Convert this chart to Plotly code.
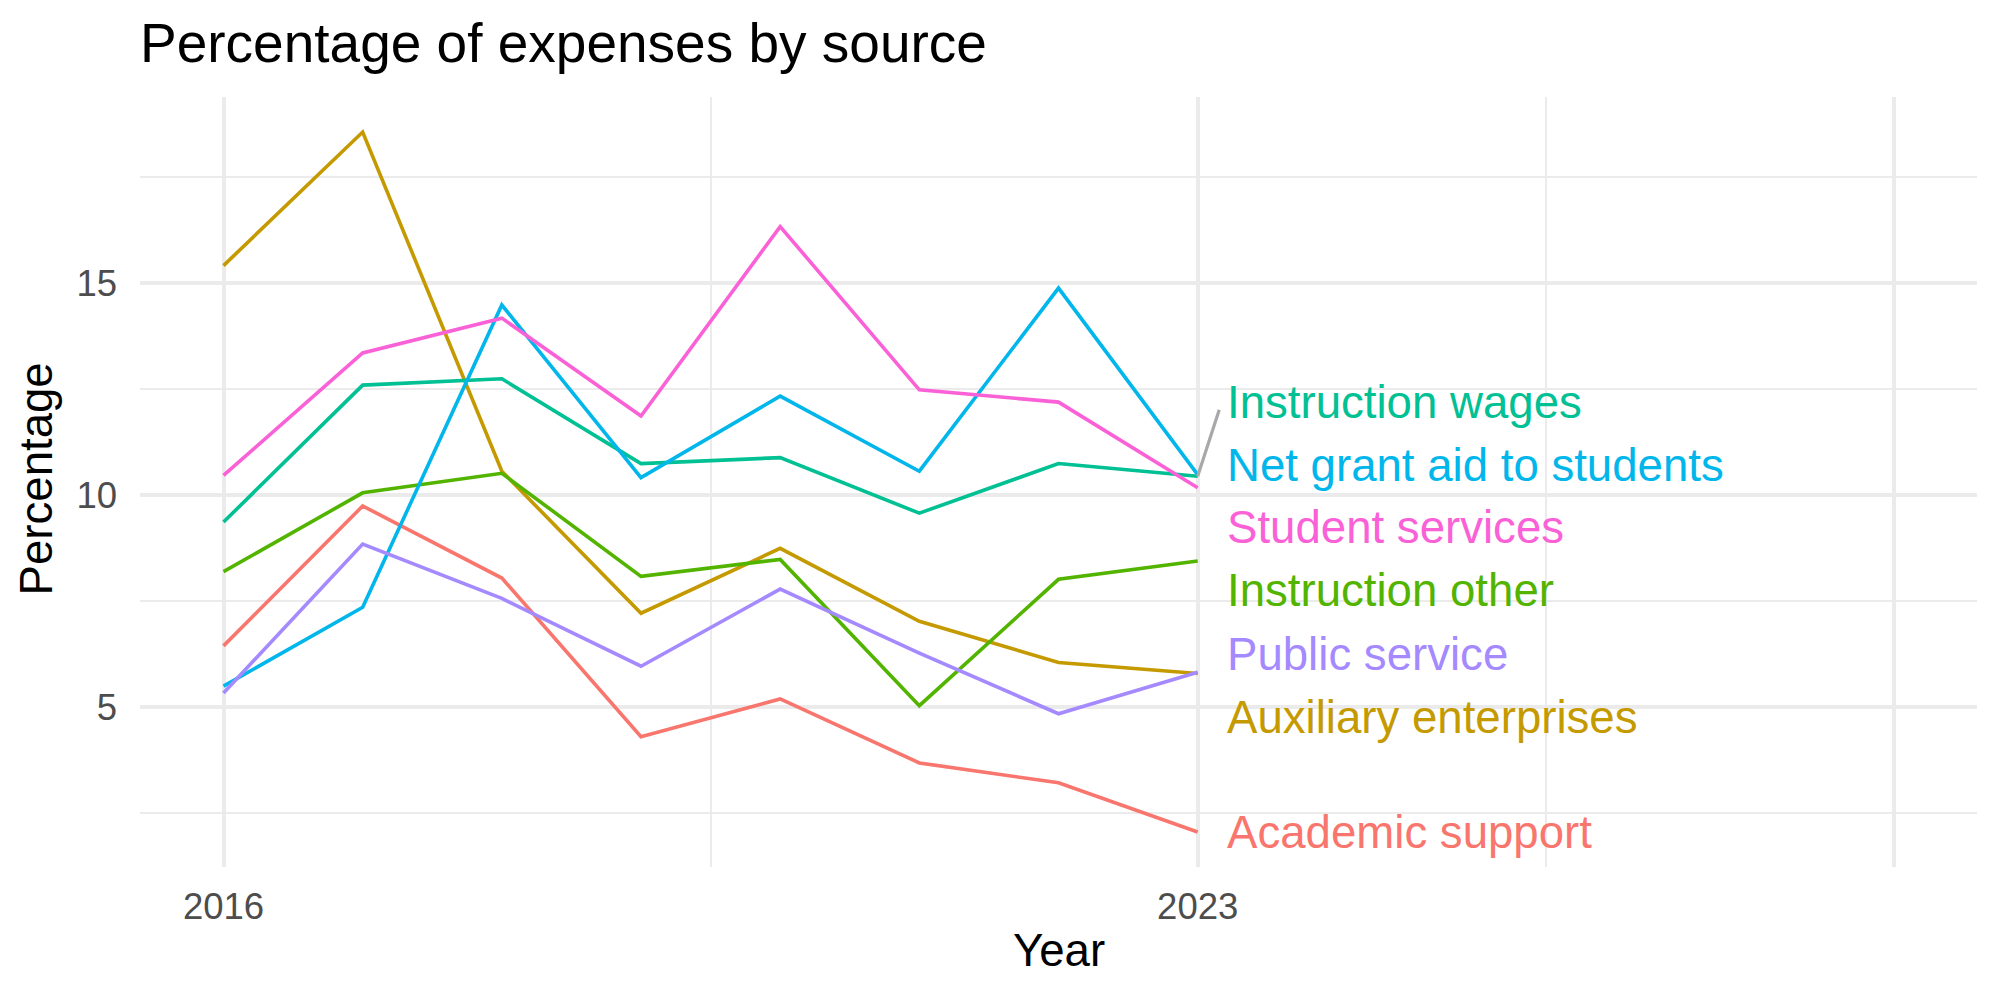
import plotly.graph_objects as go

# ---- data ----
years = [2016, 2017, 2018, 2019, 2020, 2021, 2022, 2023]

categories = ["Academic support", "Auxiliary enterprises", "Instruction other",
              "Instruction wages", "Net grant aid to students", "Public service",
              "Student services"]

academic_support = [6.45, 9.75, 8.05, 4.31, 5.20, 3.69, 3.22, 2.06]
auxiliary_enterprises = [15.42, 18.57, 10.57, 7.22, 8.75, 7.03, 6.06, 5.80]
instruction_other = [8.20, 10.06, 10.52, 8.09, 8.49, 5.04, 8.02, 8.45]
instruction_wages = [9.37, 12.60, 12.75, 10.75, 10.89, 9.58, 10.75, 10.45]
net_grant_aid = [5.50, 7.36, 14.49, 10.42, 12.34, 10.57, 14.89, 10.49]
public_service = [5.34, 8.85, 7.57, 5.97, 7.79, 6.28, 4.85, 5.83]
student_services = [10.47, 13.36, 14.18, 11.87, 16.34, 12.49, 12.20, 10.18]

series_values = [academic_support, auxiliary_enterprises, instruction_other,
                 instruction_wages, net_grant_aid, public_service, student_services]

# repelled label positions (y, data units) at the right end
label_y = [2.05, 4.76, 7.76, 12.19, 10.71, 6.25, 9.25]
label_x = 2023.195

colors = ["#F8766D", "#C49A00", "#53B400", "#00C094", "#00B6EB", "#A58AFF", "#FB61D7"]

x_tick_vals = [2016, 2023, 2028]
x_tick_text = ["2016", "2023", ""]
x_minor_vals = [2019.5, 2025.5]
y_tick_vals = [5, 10, 15]
y_tick_text = ["5", "10", "15"]
y_minor_vals = [2.5, 7.5, 12.5, 17.5]

FONT = "Liberation Sans, Arial, Helvetica, sans-serif"

fig = go.Figure()

for name, vals, col in zip(categories, series_values, colors):
    fig.add_trace(go.Scatter(x=years, y=vals, mode="lines", name=name,
                             line=dict(color=col, width=3.6), showlegend=False,
                             hoverinfo="skip"))

# leader segment for "Instruction wages" label
iw = categories.index("Instruction wages")
fig.add_trace(go.Scatter(x=[years[-1], label_x - 0.04],
                         y=[series_values[iw][-1], label_y[iw] - 0.17],
                         mode="lines", line=dict(color="#A8A8A8", width=3.2),
                         showlegend=False, hoverinfo="skip"))

annotations = []
for name, ly, col in zip(categories, label_y, colors):
    annotations.append(dict(x=label_x, y=ly, xref="x", yref="y", text=name,
                            showarrow=False, xanchor="left", yanchor="middle",
                            font=dict(family=FONT, size=45.6, color=col)))

annotations.append(dict(x=0.5, y=-0.1084, xref="paper", yref="paper", text="Year",
                        showarrow=False, xanchor="center", yanchor="middle",
                        font=dict(family=FONT, size=45.6, color="black")))
annotations.append(dict(x=-0.05623, y=0.5042, xref="paper", yref="paper",
                        text="Percentage", textangle=-90, showarrow=False,
                        xanchor="center", yanchor="middle",
                        font=dict(family=FONT, size=45.6, color="black")))

fig.update_layout(
    width=2000, height=1000,
    margin=dict(l=140, r=23, t=97, b=132.5, pad=0),
    paper_bgcolor="white", plot_bgcolor="white",
    font=dict(family=FONT),
    title=dict(text="Percentage of expenses by source", xref="container", yref="container",
               x=0.07, xanchor="left", y=0.957, yanchor="middle",
               font=dict(family=FONT, size=55, color="black")),
    annotations=annotations,
    xaxis=dict(range=[2015.4, 2028.6], tickmode="array", tickvals=x_tick_vals,
               ticktext=x_tick_text, showgrid=True, gridcolor="#EBEBEB", gridwidth=3.6,
               zeroline=False, showline=False, ticks="", ticklabelstandoff=14,
               tickfont=dict(family=FONT, size=36.5, color="#4D4D4D"),
               minor=dict(tickvals=x_minor_vals, showgrid=True, gridcolor="#EBEBEB",
                          gridwidth=1.9, ticks="")),
    yaxis=dict(range=[1.235, 19.396], tickmode="array", tickvals=y_tick_vals,
               ticktext=y_tick_text, showgrid=True, gridcolor="#EBEBEB", gridwidth=3.6,
               zeroline=False, showline=False, ticks="", ticklabelstandoff=22,
               tickfont=dict(family=FONT, size=36.5, color="#4D4D4D"),
               minor=dict(tickvals=y_minor_vals, showgrid=True, gridcolor="#EBEBEB",
                          gridwidth=1.9, ticks="")),
)

fig.write_html("out.html")
